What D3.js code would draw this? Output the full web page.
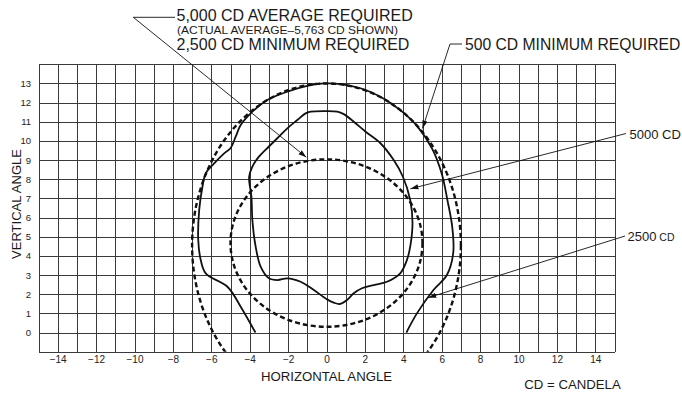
<!DOCTYPE html>
<html>
<head>
<meta charset="utf-8">
<script src="https://cdn.jsdelivr.net/npm/d3@7"></script>
<style>
  html, body { margin: 0; padding: 0; background: #fff; }
  svg { display: block; font-family: "Liberation Sans", Arial, Helvetica, sans-serif; }
  .grid line { stroke: #3a3a3a; stroke-width: 1; shape-rendering: crispEdges; }
  .tick-lbl text { fill: #222; }
</style>
</head>
<body>
<svg id="chart" width="682" height="400"></svg>
<script>
// tick labels
const xTicks = [-14, -12, -10, -8, -6, -4, -2, 0, 2, 4, 6, 8, 10, 12, 14];
const yTicks = [0, 1, 2, 3, 4, 5, 6, 7, 8, 9, 10, 11, 12, 13];

// measured 5000 cd contour (closed), [horizontal, vertical] degrees
const contour5000 = [
  [-0.83, 11.53], [0.0, 11.56], [0.56, 11.53], [0.9, 11.4], [1.42, 11.0],
  [2.04, 10.48], [2.81, 9.88], [3.5, 9.0], [3.98, 8.13], [4.36, 6.92],
  [4.48, 5.7], [4.36, 4.48], [4.19, 3.79], [3.84, 3.09], [3.15, 2.65],
  [2.46, 2.48], [1.85, 2.31], [1.42, 2.05], [1.07, 1.7], [0.69, 1.49],
  [0.38, 1.56], [0.03, 1.73], [-0.66, 2.22], [-1.35, 2.65], [-2.04, 2.83],
  [-2.55, 2.74], [-3.0, 2.83], [-3.43, 3.44], [-3.69, 4.48], [-3.86, 5.87],
  [-3.91, 7.09], [-4.03, 8.13], [-3.86, 8.66], [-3.52, 9.18], [-3.0, 9.71],
  [-2.56, 10.14], [-2.04, 10.66], [-1.52, 11.09], [-1.09, 11.44]
];

// measured 2500 cd contour (open at the bottom)
const contour2500 = [
  [-3.7, 0.0], [-4.47, 1.35], [-5.16, 2.39], [-6.29, 3.09], [-6.55, 3.79],
  [-6.68, 4.83], [-6.63, 6.4], [-6.46, 7.61], [-6.29, 8.31], [-5.85, 8.83],
  [-5.33, 9.35], [-5.0, 9.62], [-4.73, 10.22], [-4.47, 10.83], [-3.95, 11.44],
  [-3.08, 12.14], [-2.04, 12.57], [-1.0, 12.87], [-0.14, 13.0], [0.73, 12.97],
  [1.77, 12.75], [2.81, 12.31], [3.84, 11.61], [4.7, 10.8], [5.5, 9.6],
  [6.0, 8.3], [6.3, 6.9], [6.55, 5.5], [6.6, 4.14], [6.27, 3.0],
  [5.57, 2.22], [4.71, 1.0], [4.16, 0.0]
];

// required minimum zones (dashed ellipses): centre and half-axes in degrees
const zoneNames = ["2,500 CD minimum", "500 CD minimum"];
const zoneCenters = [[0, 4.67], [0, 4.55]];
const zoneRadii = [[5.0, 4.37], [7.0, 8.45]];

// callout targets in degrees
const calloutTargets = [[-1.05, 9.15], [5.0, 10.65], [4.37, 7.5], [5.3, 1.82]];

const svg = d3.select("#chart");
const x = d3.scaleLinear().domain([-15, 15]).range([38.5, 614.5]);
const y = d3.scaleLinear().domain([-1, 14]).range([351.7, 64.3]);
const [x0, x1] = x.range();
const [yb, yt] = y.range();

svg.append("defs").call(d => {
  d.append("clipPath").attr("id", "plotclip")
    .append("rect").attr("x", x0).attr("y", yt).attr("width", x1 - x0).attr("height", yb - yt);
  d.append("marker").attr("id", "arrow")
    .attr("viewBox", "0 -3 8 6").attr("refX", 8).attr("refY", 0)
    .attr("markerWidth", 8).attr("markerHeight", 6)
    .attr("markerUnits", "userSpaceOnUse").attr("orient", "auto")
    .append("path").attr("d", "M0,-2.6L8,0L0,2.6Z").attr("fill", "#111");
});

// grid
svg.append("g").attr("class", "grid")
  .attr("transform", `translate(0,${yb})`)
  .call(d3.axisBottom(x).tickValues(d3.range(-15, 16)).tickSize(-(yb - yt)).tickFormat(""))
  .call(g => g.select(".domain").remove());
svg.append("g").attr("class", "grid")
  .attr("transform", `translate(${x0},0)`)
  .call(d3.axisLeft(y).tickValues(d3.range(-1, 15)).tickSize(-(x1 - x0)).tickFormat(""))
  .call(g => g.select(".domain").remove());

// tick labels
svg.append("g").attr("class", "tick-lbl")
  .attr("transform", `translate(0,${yb})`)
  .call(d3.axisBottom(x).tickValues(xTicks).tickSize(0).tickPadding(4))
  .call(g => g.select(".domain").remove())
  .selectAll("text").attr("font-size", 10).attr("font-family", null);
svg.append("g").attr("class", "tick-lbl")
  .attr("transform", `translate(${x0},0)`)
  .call(d3.axisLeft(y).tickValues(yTicks).tickSize(0).tickPadding(7.5))
  .call(g => g.select(".domain").remove())
  .selectAll("text").attr("font-size", 9.5).attr("font-family", null);

// curves
const plot = svg.append("g").attr("clip-path", "url(#plotclip)");

plot.selectAll("ellipse.zone")
  .data(zoneNames)
  .join("ellipse")
  .attr("class", "zone")
  .attr("cx", (d, i) => x(zoneCenters[i][0]))
  .attr("cy", (d, i) => y(zoneCenters[i][1]))
  .attr("rx", (d, i) => x(zoneRadii[i][0]) - x(0))
  .attr("ry", (d, i) => y(0) - y(zoneRadii[i][1]))
  .attr("fill", "none")
  .attr("stroke", "#111")
  .attr("stroke-width", 2.4)
  .attr("stroke-dasharray", "5,3");

plot.append("path")
  .datum(contour2500)
  .attr("d", d3.line().x(d => x(d[0])).y(d => y(d[1])).curve(d3.curveCatmullRom.alpha(0.5)))
  .attr("fill", "none").attr("stroke", "#111").attr("stroke-width", 1.8);

plot.append("path")
  .datum(contour5000)
  .attr("d", d3.line().x(d => x(d[0])).y(d => y(d[1])).curve(d3.curveCatmullRomClosed.alpha(0.5)))
  .attr("fill", "none").attr("stroke", "#111").attr("stroke-width", 1.8);

// callout leaders
const leaderStarts = [[[175, 17.3], [133.3, 17.3]], [[462, 44], [450, 44]], [[626, 133.5]], [[625, 236]]];
leaderStarts.forEach((pts, i) => {
  const t = calloutTargets[i];
  svg.append("path")
    .attr("d", d3.line()([...pts, [x(t[0]), y(t[1])]]))
    .attr("fill", "none").attr("stroke", "#111").attr("stroke-width", 0.9)
    .attr("marker-end", "url(#arrow)");
});

// texts
const txt = (xp, yp, s, size, anchor) =>
  svg.append("text").attr("x", xp).attr("y", yp).attr("font-size", size)
    .attr("fill", "#1a1a1a").attr("text-anchor", anchor || "start").text(s);

txt(176.5, 20.8, "5,000 CD AVERAGE REQUIRED", 16);
txt(177, 34.3, "(ACTUAL AVERAGE\u20135,763 CD SHOWN)", 11)
  .attr("textLength", 221).attr("lengthAdjust", "spacingAndGlyphs");
txt(176.5, 50.3, "2,500 CD MINIMUM REQUIRED", 16);
txt(465, 49.5, "500 CD MINIMUM REQUIRED", 15.7);
txt(629.5, 138.5, "5000 CD", 13);
const t2500 = txt(627.5, 240.5, "2500", 13);
t2500.append("tspan").attr("font-size", 10.5).text(" CD");

txt(326.5, 381, "HORIZONTAL ANGLE", 13.2, "middle");
txt(572.5, 389, "CD = CANDELA", 13.2, "middle");
svg.append("text")
  .attr("transform", "translate(20.5,204) rotate(-90)")
  .attr("text-anchor", "middle").attr("font-size", 13)
  .attr("fill", "#1a1a1a").text("VERTICAL ANGLE");
</script>
</body>
</html>
